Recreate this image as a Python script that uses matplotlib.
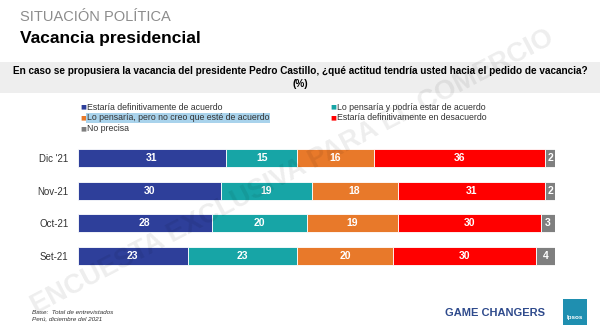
import matplotlib
matplotlib.use("Agg")
import matplotlib.pyplot as plt
from matplotlib.patches import Rectangle

# survey waves (top to bottom) and answer shares in %
periods = ["Dic '21", "Nov-21", "Oct-21", "Set-21"]
de_acuerdo = [31, 30, 28, 23]
podria_acuerdo = [15, 19, 20, 23]
no_creo_acuerdo = [16, 18, 19, 20]
desacuerdo = [36, 31, 30, 30]
no_precisa = [2, 2, 3, 4]

series = [de_acuerdo, podria_acuerdo, no_creo_acuerdo, desacuerdo, no_precisa]
names = ["Estaría definitivamente de acuerdo",
         "Lo pensaría y podría estar de acuerdo",
         "Lo pensaría, pero no creo que esté de acuerdo",
         "Estaría definitivamente en desacuerdo",
         "No precisa"]
colors = ["#2E3F9A", "#17A5A6", "#E8792A", "#FF0000", "#7F7F7F"]

W, H = 600, 332
fig = plt.figure(figsize=(6, 3.32), dpi=100)
fig.patch.set_facecolor("white")


def fx(px):
    return px / W


def fy(py):
    return 1 - py / H


# headers
fig.text(fx(20), fy(17), "SITUACIÓN POLÍTICA", color="#8C8C8C", fontsize=10.5,
         va="center", family="Liberation Sans")
fig.text(fx(20), fy(38), "Vacancia presidencial", color="black", fontsize=12.5,
         fontweight="bold", va="center", family="Liberation Sans")

# question band
fig.patches.append(Rectangle((0, fy(93)), 1, fy(62) - fy(93), transform=fig.transFigure,
                             facecolor="#EEEEEE", edgecolor="none", zorder=0))
fig.text(0.5, fy(71), "En caso se propusiera la vacancia del presidente Pedro Castillo, "
         "¿qué actitud tendría usted hacia el pedido de vacancia?",
         ha="center", va="center", fontsize=7.2, fontweight="bold", family="Liberation Sans")
fig.text(0.5, fy(84), "(%)", ha="center", va="center", fontsize=7.2,
         fontweight="bold", family="Liberation Sans")

# watermark
fig.text(fx(292), fy(172), "ENCUESTA EXCLUSIVA PARA EL COMERCIO", rotation=27.6,
         ha="center", va="center", fontsize=19.5, color="#000000", alpha=0.07,
         fontweight="bold", family="Liberation Sans", zorder=10)

# legend
leg_pos = [(80, 107), (330, 107), (80, 118), (330, 118), (80, 129)]
for (lx, ly), name, c in zip(leg_pos, names, colors):
    fig.text(fx(lx), fy(ly), "■", color=c, fontsize=4.5, va="center", family="DejaVu Sans")
    kw = {}
    if name.startswith("Lo pensaría, pero"):
        kw["bbox"] = dict(facecolor="#A9D3EC", edgecolor="none", pad=0.6)
    fig.text(fx(lx + 7), fy(ly), name, color="#333333", fontsize=6.3, va="center",
             family="Liberation Sans", **kw)

# stacked bars
ax = fig.add_axes([fx(78), fy(272), fx(555) - fx(78), fy(142) - fy(272)])
ypos = range(len(periods))
left = [0] * len(periods)
for vals, c in zip(series, colors):
    ax.barh(ypos, vals, left=left, height=0.56, color=c, edgecolor="white", linewidth=0.6)
    for i, v in enumerate(vals):
        ax.text(left[i] + v / 2, i, str(v), ha="center", va="center", color="white",
                fontsize=7.5, fontweight="bold", family="Liberation Sans")
    left = [l + v for l, v in zip(left, vals)]

ax.set_xlim(0, 100)
ax.set_ylim(3.5, -0.5)
ax.set_yticks(list(ypos))
ax.set_yticklabels(periods, fontsize=7, color="#333333", family="Liberation Sans")
ax.tick_params(axis="y", length=0, pad=7)
ax.set_xticks([])
for s in ax.spines.values():
    s.set_visible(False)
ax.set_facecolor("none")

# footer
fig.text(fx(32), fy(312), "Base:  Total de entrevistados", fontsize=4.6, style="italic",
         color="#333333", va="center", family="Liberation Sans")
fig.text(fx(32), fy(319), "Perú, diciembre del 2021", fontsize=4.6, style="italic",
         color="#333333", va="center", family="Liberation Sans")
fig.text(fx(545), fy(313), "GAME CHANGERS", fontsize=8, fontweight="bold",
         color="#2E4A8C", ha="right", va="center", family="Liberation Sans")
fig.patches.append(Rectangle((fx(563), fy(325)), fx(24), fy(299) - fy(325),
                             transform=fig.transFigure, facecolor="#1F8FB0",
                             edgecolor="none"))
fig.text(fx(575), fy(318), "Ipsos", fontsize=4.5, color="white", ha="center",
         va="center", fontweight="bold", family="Liberation Sans")

fig.savefig("out.png", dpi=100, facecolor="white")
